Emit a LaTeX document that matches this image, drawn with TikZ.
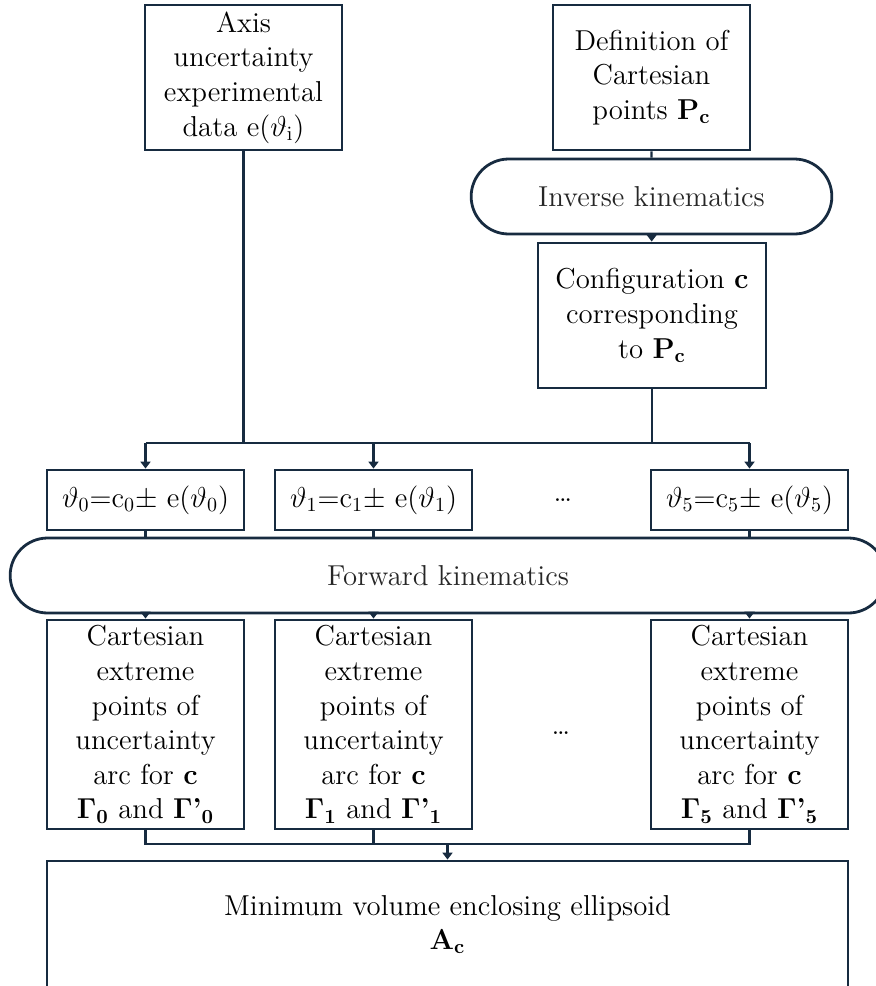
\documentclass[tikz,border=0pt]{standalone}
\usepackage[no-math]{fontspec}
\usepackage{tikz}
\usetikzlibrary{arrows.meta, positioning, shapes.misc}
\definecolor{navy}{HTML}{172B40}
\tikzset{
    box/.style={rectangle,draw=navy,align=center,inner sep=1pt,
        font=\fontsize{14.4}{17.3}\selectfont},
    pill/.style={rounded rectangle,draw=navy,align=center,
        text=black!85,font=\fontsize{14.4}{17.3}\selectfont},
    textnode/.style={font=\fontsize{14.4}{17.3}\selectfont},
    link/.style={draw=navy,line width=1.2pt},
    arrow/.style={link,-{Triangle[length=3.5pt,width=5pt]}}}

\begin{document}
\begin{tikzpicture}
[x=0.5pt,y=-0.5pt,line width=1.4pt]
\useasboundingbox (0,0) rectangle (876,986);
\clip (0,0) rectangle (876,986);

% inputs and inverse kinematics
\node[box, minimum width=98.5pt, minimum height=72.5pt] (axis) at (243.5,77.5)
    {Axis\\uncertainty\\experimental\\data e($\vartheta_{\mathrm{i}}$)};
\node[box, minimum width=98.5pt, minimum height=72.5pt] (defn) at (651.5,77.5)
    {Definition of\\Cartesian\\points $\mathbf{P}_\mathbf{c}$};
\node[pill, minimum width=187pt, minimum height=37.5pt] (inv) at (651.5,196.5)
    {Inverse kinematics};
\node[box, minimum width=114pt, minimum height=72.5pt] (conf) at (652,315.5)
    {Configuration $\mathbf{c}$\\corresponding\\to $\mathbf{P}_\mathbf{c}$};

% joint values
\node[box, minimum width=98.5pt, minimum height=30pt] (th0) at (145.5,500)
    {$\vartheta_0$=c$_0\pm$ e($\vartheta_0$)};
\node[box, minimum width=98.5pt, minimum height=30pt] (th1) at (373.5,500)
    {$\vartheta_1$=c$_1\pm$ e($\vartheta_1$)};
\node[box, minimum width=98.5pt, minimum height=30pt] (th5) at (749.5,500)
    {$\vartheta_5$=c$_5\pm$ e($\vartheta_5$)};
\node[textnode] (dots1) at (563,500) {\dots};

\node[pill, minimum width=444.5pt, minimum height=37.5pt] (fwd) at (448,575.5)
    {Forward kinematics};

% extreme points
\node[box, minimum width=98.5pt, minimum height=104.5pt] (cart0) at (145.5,724.5)
    {Cartesian\\extreme\\points of\\uncertainty\\arc for $\mathbf{c}$\\
     $\mathbf{\Gamma}_\mathbf{0}$ and $\mathbf{\Gamma}$\textbf{'}$_\mathbf{0}$};
\node[box, minimum width=98.5pt, minimum height=104.5pt] (cart1) at (373.5,724.5)
    {Cartesian\\extreme\\points of\\uncertainty\\arc for $\mathbf{c}$\\
     $\mathbf{\Gamma}_\mathbf{1}$ and $\mathbf{\Gamma}$\textbf{'}$_\mathbf{1}$};
\node[box, minimum width=98.5pt, minimum height=104.5pt] (cart5) at (749.5,724.5)
    {Cartesian\\extreme\\points of\\uncertainty\\arc for $\mathbf{c}$\\
     $\mathbf{\Gamma}_\mathbf{5}$ and $\mathbf{\Gamma}$\textbf{'}$_\mathbf{5}$};
\node[textnode] (dots2) at (561,733) {\dots};

\node[box, minimum width=400.5pt, minimum height=63.5pt] (ell) at (447.5,924.5)
    {Minimum volume enclosing ellipsoid\\$\mathbf{A}_\mathbf{c}$};

\coordinate (bus) at (447.5,443);
\coordinate (join) at (447.5,844);

\draw[link] (defn) -- (inv);
\draw[arrow] (inv) -- (conf);

\draw[link] (axis.south) -- (axis.south |- bus);
\draw[link] (conf.south) -- (conf.south |- bus);
\draw[link] (th0.north |- bus) -- (th5.north |- bus);
\draw[arrow] (th0.north |- bus) -- (th0.north);
\draw[arrow] (th1.north |- bus) -- (th1.north);
\draw[arrow] (th5.north |- bus) -- (th5.north);

\draw[link] (th0.south) -- (th0.south |- fwd.north);
\draw[link] (th1.south) -- (th1.south |- fwd.north);
\draw[link] (th5.south) -- (th5.south |- fwd.north);
\draw[arrow] (cart0.north |- fwd.south) -- (cart0.north);
\draw[arrow] (cart1.north |- fwd.south) -- (cart1.north);
\draw[arrow] (cart5.north |- fwd.south) -- (cart5.north);

\draw[link] (cart0.south) |- (join) -| (cart5.south);
\draw[link] (cart1.south) -- (cart1.south |- join);
\draw[arrow] (join) -- (ell);
\end{tikzpicture}
\end{document}
